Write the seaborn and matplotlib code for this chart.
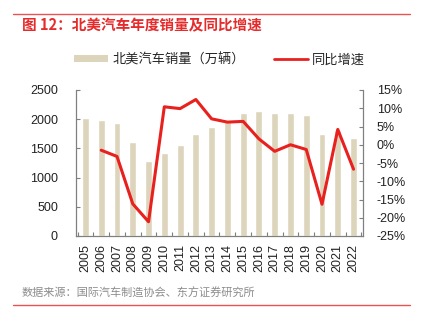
import matplotlib
matplotlib.use("Agg")
import matplotlib.pyplot as plt
import seaborn as sns
import numpy as np
import pandas as pd
from matplotlib.lines import Line2D
from matplotlib.patches import Patch
from matplotlib.ticker import FuncFormatter, MultipleLocator, FixedLocator

years = ["2005", "2006", "2007", "2008", "2009", "2010", "2011", "2012", "2013",
         "2014", "2015", "2016", "2017", "2018", "2019", "2020", "2021", "2022"]
sales = [2020, 1990, 1930, 1615, 1285, 1415, 1555, 1745, 1872,
         1990, 2112, 2146, 2110, 2105, 2077, 1741, 1810, 1683]
growth = [np.nan, -1.5, -3.2, -16.2, -21.1, 10.4, 9.9, 12.4, 7.1,
          6.2, 6.4, 1.6, -1.8, 0.0, -1.3, -16.3, 4.2, -6.7]

title = "图 12：北美汽车年度销量及同比增速"
bar_label = "北美汽车销量（万辆）"
line_label = "同比增速"
source = "数据来源：国际汽车制造协会、东方证券研究所"

sns.set_theme(style="white")
plt.rcParams["font.family"] = ["Liberation Sans", "Noto Sans CJK SC", "DejaVu Sans"]

bar_color = "#DDD4BC"
line_color = "#E8201E"
axis_color = "#7F7F7F"

df = pd.DataFrame({"year": years, "sales": sales, "growth": growth})
df["pos"] = np.arange(len(years))

fig = plt.figure(figsize=(4.22, 3.22), dpi=100)
ax = fig.add_axes([76 / 422, 1 - 236 / 322, (363 - 76) / 422, (236 - 90) / 322])

sns.barplot(data=df, x="year", y="sales", color=bar_color, width=0.44,
            saturation=1, ax=ax, order=years)
ax.set_ylim(0, 2500)
ax.yaxis.set_major_locator(MultipleLocator(500))
ax.set_xlim(-0.6, len(years) - 0.4)

ax2 = ax.twinx()
sns.lineplot(data=df.dropna(), x="pos", y="growth", color=line_color, lw=2.2, ax=ax2)
ax2.set_ylim(-25, 15)
ax2.yaxis.set_major_locator(MultipleLocator(5))
ax2.yaxis.set_major_formatter(FuncFormatter(lambda v, p: f"{v:.0f}%"))
ax2.set_xlim(-0.6, len(years) - 0.4)

for a in (ax, ax2):
    a.set_xlabel("")
    a.set_ylabel("")
    a.spines["top"].set_visible(False)
    for s in ("left", "right", "bottom"):
        a.spines[s].set_color(axis_color)
        a.spines[s].set_linewidth(0.8)

ax.tick_params(axis="y", labelsize=9, colors="#222222", direction="in",
               length=3, width=0.8, pad=13)
ax.tick_params(axis="y", color=axis_color)
ax2.tick_params(axis="y", labelsize=9, colors="#222222", direction="in",
                length=3, width=0.8, pad=10)
ax2.tick_params(axis="y", color=axis_color)
ax.set_xticks(np.arange(len(years)))
ax.set_xticklabels(years, rotation=90, fontsize=9, color="#222222")
ax.xaxis.set_minor_locator(FixedLocator(np.arange(len(years) + 1) - 0.5))
ax.tick_params(axis="x", which="major", length=0, pad=6)
ax.tick_params(axis="x", which="minor", length=3, width=0.8, direction="in",
               color=axis_color, bottom=True)

handles = [Patch(facecolor=bar_color, edgecolor="none"),
           Line2D([0], [0], color=line_color, lw=2)]
fig.legend(handles, [bar_label, line_label], loc="center", ncol=2,
           bbox_to_anchor=(0.52, 1 - 60 / 322), frameon=False,
           prop={"family": ["Noto Sans CJK SC"], "size": 9.5},
           handlelength=2.6, handleheight=0.45, columnspacing=2.2, handletextpad=0.3)

fig.text(22 / 422, 1 - 25 / 322, title, color="#E52B2B", fontsize=10.5,
         fontweight="bold", family=["Noto Sans CJK SC"], va="center", ha="left")
fig.text(22 / 422, 1 - 293 / 322, source, color="#8C8C8C", fontsize=8,
         family=["Noto Sans CJK SC"], va="center", ha="left")
fig.add_artist(Line2D([13 / 422, 410 / 422], [1 - 14 / 322, 1 - 14 / 322],
                      color="#E8534F", lw=1.0, transform=fig.transFigure))
fig.add_artist(Line2D([13 / 422, 410 / 422], [1 - 305 / 322, 1 - 305 / 322],
                      color="#E8534F", lw=1.0, transform=fig.transFigure))

fig.savefig("out.png", dpi=100)
